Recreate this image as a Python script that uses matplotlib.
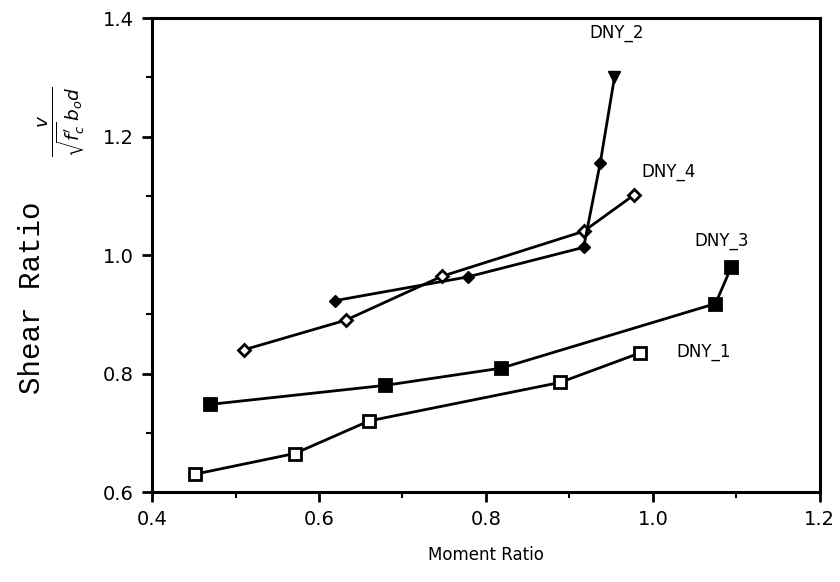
import matplotlib.pyplot as plt
from matplotlib.ticker import MultipleLocator

# data
dny1_x = [0.451, 0.571, 0.660, 0.889, 0.985]
dny1_y = [0.630, 0.665, 0.720, 0.785, 0.835]

dny3_x = [0.470, 0.679, 0.818, 1.075, 1.094]
dny3_y = [0.748, 0.780, 0.809, 0.918, 0.980]

dny4_x = [0.510, 0.632, 0.747, 0.917, 0.977]
dny4_y = [0.840, 0.890, 0.964, 1.040, 1.101]

dny2_x = [0.619, 0.778, 0.917, 0.937, 0.954]
dny2_y = [0.923, 0.963, 1.013, 1.156, 1.300]

labels = ['DNY_1', 'DNY_2', 'DNY_3', 'DNY_4']
label_pos = [(1.061, 0.836), (0.957, 1.375), (1.082, 1.024), (1.019, 1.140)]

fig = plt.figure(figsize=(8.4, 5.82), dpi=100)
ax = fig.add_axes([0.181, 0.1546, 0.795, 0.8144])

lw = 2.0
ax.plot(dny1_x, dny1_y, color='black', lw=lw, marker='s', ms=8,
        mfc='white', mec='black', mew=2)
ax.plot(dny3_x, dny3_y, color='black', lw=lw, marker='s', ms=8,
        mfc='black', mec='black', mew=2)
ax.plot(dny4_x, dny4_y, color='black', lw=lw, marker='D', ms=6,
        mfc='white', mec='black', mew=2)
ax.plot(dny2_x[:-1], dny2_y[:-1], color='black', lw=lw, marker='D', ms=6,
        mfc='black', mec='black')
ax.plot(dny2_x[-2:], dny2_y[-2:], color='black', lw=lw)
ax.plot(dny2_x[-1:], dny2_y[-1:], color='black', marker='v', ms=8, ls='none')

for text, (x, y) in zip(labels, label_pos):
    ax.text(x, y, text, ha='center', va='center', fontsize=12)

ax.set_xlim(0.4, 1.2)
ax.set_ylim(0.6, 1.4)
ax.xaxis.set_major_locator(MultipleLocator(0.2))
ax.xaxis.set_minor_locator(MultipleLocator(0.1))
ax.yaxis.set_major_locator(MultipleLocator(0.2))
ax.yaxis.set_minor_locator(MultipleLocator(0.1))
ax.xaxis.set_major_formatter(plt.FuncFormatter(lambda v, p: f'{v:.1f}'))
ax.yaxis.set_major_formatter(plt.FuncFormatter(lambda v, p: f'{v:.1f}'))

ax.tick_params(which='major', direction='out', length=7, width=2,
               labelsize=14, pad=6)
ax.tick_params(which='minor', direction='out', length=4, width=1.5)
for sp in ax.spines.values():
    sp.set_linewidth(2.2)

ax.set_xlabel('Moment Ratio', fontsize=12, labelpad=12)

# y label: text plus the fraction
ax.text(-0.18, 0.41, 'Shear Ratio', rotation=90, ha='center', va='center',
        fontsize=21, family='Liberation Mono', transform=ax.transAxes)
ax.text(-0.135, 0.78, r"$\frac{v}{\sqrt{f_c'}\,b_o d}$", rotation=90,
        ha='center', va='center', fontsize=19, transform=ax.transAxes)

fig.savefig('out.png', dpi=100)
